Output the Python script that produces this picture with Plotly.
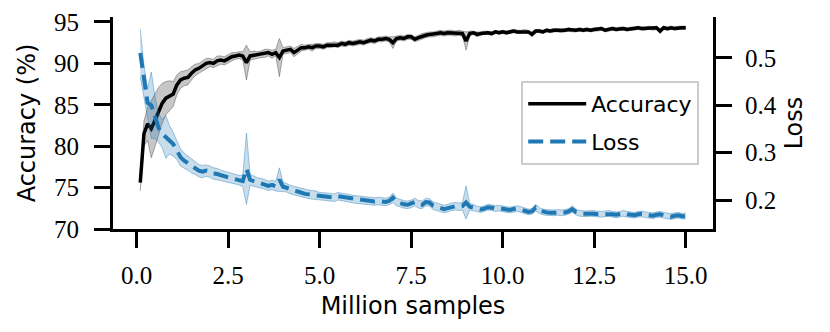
import plotly.graph_objects as go

# ── style ─────────────────────────────────────────────────────────────────────
BLACK = "#000000"
BLUE = "#1f77b4"
ACC_FILL = "rgba(0,0,0,0.22)"
ACC_EDGE = "rgba(0,0,0,0.30)"
LOSS_FILL = "rgba(31,119,180,0.25)"
LOSS_EDGE = "rgba(31,119,180,0.40)"
TICK_FONT = dict(family="Liberation Serif, DejaVu Serif, serif", size=25, color="black")
TITLE_FONT = dict(family="DejaVu Sans, sans-serif", size=24, color="black")

# the page body keeps its default 8px margin, so the figure is 8px smaller
FIG_W, FIG_H = 822, 324

# ── data ──────────────────────────────────────────────────────────────────────
samples_m = [
    0.1, 0.2, 0.3, 0.4, 0.5, 0.6, 0.7, 0.8, 0.9, 1.0,
    1.1, 1.2, 1.3, 1.4, 1.5, 1.6, 1.7, 1.8, 1.9, 2.0,
    2.1, 2.2, 2.3, 2.4, 2.5, 2.6, 2.7, 2.8, 2.9, 3.0,
    3.1, 3.2, 3.3, 3.4, 3.5, 3.6, 3.7, 3.8, 3.9, 4.0,
    4.1, 4.2, 4.3, 4.4, 4.5, 4.6, 4.7, 4.8, 4.9, 5.0,
    5.1, 5.2, 5.3, 5.4, 5.5, 5.6, 5.7, 5.8, 5.9, 6.0,
    6.1, 6.2, 6.3, 6.4, 6.5, 6.6, 6.7, 6.8, 6.9, 7.0,
    7.1, 7.2, 7.3, 7.4, 7.5, 7.6, 7.7, 7.8, 7.9, 8.0,
    8.1, 8.2, 8.3, 8.4, 8.5, 8.6, 8.7, 8.8, 8.9, 9.0,
    9.1, 9.2, 9.3, 9.4, 9.5, 9.6, 9.7, 9.8, 9.9, 10.0,
    10.1, 10.2, 10.3, 10.4, 10.5, 10.6, 10.7, 10.8, 10.9, 11.0,
    11.1, 11.2, 11.3, 11.4, 11.5, 11.6, 11.7, 11.8, 11.9, 12.0,
    12.1, 12.2, 12.3, 12.4, 12.5, 12.6, 12.7, 12.8, 12.9, 13.0,
    13.1, 13.2, 13.3, 13.4, 13.5, 13.6, 13.7, 13.8, 13.9, 14.0,
    14.1, 14.2, 14.3, 14.4, 14.5, 14.6, 14.7, 14.8, 14.9, 15.0,
]

accuracy = [
    75.6, 81.5, 82.7, 82.1, 83.1, 84.3, 85.2, 85.8, 86.1, 86.3,
    87.4, 88.0, 88.2, 88.3, 88.8, 89.2, 89.4, 89.7, 90.0, 90.1,
    90.0, 90.3, 90.4, 90.3, 90.6, 90.8, 90.9, 91.0, 90.9, 90.1,
    90.9, 91.0, 91.0, 91.1, 91.2, 91.3, 91.1, 91.3, 90.7, 91.5,
    91.6, 91.7, 91.3, 91.6, 91.9, 91.9, 92.0, 91.9, 92.1, 92.1,
    92.0, 92.2, 92.2, 92.3, 92.2, 92.4, 92.3, 92.5, 92.4, 92.5,
    92.6, 92.5, 92.7, 92.8, 92.7, 92.9, 92.9, 93.0, 92.9, 92.5,
    93.0, 93.1, 93.0, 93.2, 93.2, 92.9, 93.1, 93.3, 93.4, 93.5,
    93.5, 93.6, 93.7, 93.6, 93.7, 93.7, 93.6, 93.7, 93.6, 92.7,
    93.6, 93.7, 93.5, 93.6, 93.7, 93.7, 93.6, 93.8, 93.7, 93.8,
    93.7, 93.8, 93.9, 93.8, 93.8, 93.9, 93.8, 93.5, 93.9, 93.9,
    93.8, 94.0, 93.9, 94.0, 94.0, 93.9, 94.0, 94.1, 94.0, 94.0,
    94.1, 94.0, 94.1, 94.0, 94.1, 94.1, 94.2, 94.0, 94.1, 94.2,
    94.1, 94.2, 94.2, 94.1, 94.2, 94.2, 94.3, 94.2, 94.2, 94.3,
    94.2, 94.3, 93.9, 94.3, 94.2, 94.3, 94.2, 94.3, 94.3, 94.3,
]

accuracy_sd = [
    1.0, 1.5, 2.0, 3.5, 3.2, 2.8, 2.4, 2.0, 1.8, 1.5,
    1.2, 1.0, 0.9, 0.9, 0.8, 0.7, 0.6, 0.6, 0.6, 0.5,
    0.5, 0.6, 0.5, 0.5, 0.5, 0.5, 0.4, 0.4, 0.5, 2.1,
    0.5, 0.5, 0.4, 0.4, 0.5, 0.4, 0.5, 0.4, 2.3, 0.4,
    0.4, 0.4, 0.5, 0.4, 0.4, 0.3, 0.3, 0.4, 0.3, 0.3,
    0.3, 0.3, 0.3, 0.3, 0.3, 0.3, 0.3, 0.3, 0.3, 0.3,
    0.3, 0.3, 0.3, 0.3, 0.3, 0.3, 0.3, 0.3, 0.3, 0.7,
    0.3, 0.3, 0.3, 0.3, 0.3, 0.3, 0.3, 0.3, 0.3, 0.3,
    0.3, 0.3, 0.3, 0.3, 0.3, 0.3, 0.3, 0.3, 0.3, 1.1,
    0.3, 0.2, 0.3, 0.2, 0.2, 0.2, 0.2, 0.2, 0.2, 0.2,
    0.2, 0.2, 0.2, 0.2, 0.2, 0.2, 0.2, 0.3, 0.2, 0.2,
    0.2, 0.2, 0.2, 0.2, 0.2, 0.2, 0.2, 0.2, 0.2, 0.2,
    0.2, 0.2, 0.2, 0.2, 0.2, 0.2, 0.2, 0.2, 0.2, 0.2,
    0.2, 0.2, 0.2, 0.2, 0.2, 0.2, 0.2, 0.2, 0.2, 0.2,
    0.2, 0.2, 0.3, 0.2, 0.2, 0.2, 0.2, 0.2, 0.2, 0.2,
]

loss = [
    0.510, 0.450, 0.405, 0.400, 0.375, 0.352, 0.340, 0.333, 0.327, 0.318,
    0.305, 0.290, 0.283, 0.278, 0.272, 0.268, 0.262, 0.260, 0.262, 0.260,
    0.256, 0.255, 0.252, 0.250, 0.248, 0.246, 0.244, 0.242, 0.240, 0.266,
    0.243, 0.240, 0.237, 0.236, 0.233, 0.230, 0.232, 0.229, 0.243, 0.228,
    0.226, 0.222, 0.220, 0.218, 0.215, 0.213, 0.212, 0.211, 0.210, 0.208,
    0.208, 0.207, 0.206, 0.205, 0.208, 0.207, 0.206, 0.204, 0.202, 0.201,
    0.200, 0.199, 0.198, 0.198, 0.197, 0.198, 0.197, 0.196, 0.198, 0.205,
    0.196, 0.193, 0.191, 0.190, 0.192, 0.196, 0.191, 0.190, 0.196, 0.195,
    0.188, 0.186, 0.183, 0.181, 0.183, 0.186, 0.187, 0.186, 0.187, 0.195,
    0.186, 0.184, 0.181, 0.180, 0.182, 0.185, 0.184, 0.182, 0.183, 0.181,
    0.180, 0.179, 0.181, 0.182, 0.180, 0.177, 0.175, 0.176, 0.184, 0.178,
    0.175, 0.174, 0.173, 0.173, 0.174, 0.173, 0.174, 0.176, 0.181, 0.175,
    0.172, 0.171, 0.171, 0.172, 0.171, 0.170, 0.170, 0.171, 0.172, 0.170,
    0.169, 0.170, 0.172, 0.170, 0.169, 0.168, 0.170, 0.171, 0.169, 0.168,
    0.167, 0.169, 0.170, 0.168, 0.166, 0.165, 0.167, 0.168, 0.166, 0.166,
]

loss_sd = [
    0.050, 0.035, 0.030, 0.070, 0.045, 0.030, 0.030, 0.045, 0.030, 0.025,
    0.020, 0.018, 0.016, 0.015, 0.015, 0.014, 0.013, 0.013, 0.012, 0.012,
    0.012, 0.012, 0.011, 0.011, 0.011, 0.010, 0.010, 0.010, 0.012, 0.075,
    0.012, 0.011, 0.010, 0.010, 0.010, 0.010, 0.010, 0.010, 0.025, 0.010,
    0.009, 0.009, 0.009, 0.009, 0.009, 0.009, 0.009, 0.009, 0.009, 0.008,
    0.008, 0.008, 0.008, 0.008, 0.008, 0.008, 0.008, 0.008, 0.008, 0.008,
    0.008, 0.008, 0.008, 0.008, 0.008, 0.008, 0.008, 0.008, 0.008, 0.010,
    0.008, 0.008, 0.008, 0.008, 0.008, 0.008, 0.008, 0.008, 0.008, 0.008,
    0.008, 0.008, 0.008, 0.008, 0.008, 0.008, 0.008, 0.008, 0.008, 0.035,
    0.007, 0.007, 0.006, 0.006, 0.006, 0.006, 0.006, 0.006, 0.006, 0.006,
    0.006, 0.006, 0.006, 0.006, 0.006, 0.006, 0.006, 0.006, 0.007, 0.006,
    0.006, 0.006, 0.006, 0.006, 0.006, 0.006, 0.006, 0.006, 0.007, 0.006,
    0.006, 0.006, 0.006, 0.006, 0.006, 0.006, 0.006, 0.006, 0.006, 0.006,
    0.006, 0.006, 0.006, 0.006, 0.006, 0.006, 0.006, 0.006, 0.006, 0.006,
    0.006, 0.006, 0.006, 0.006, 0.006, 0.006, 0.006, 0.006, 0.006, 0.006,
]

x_ticks = [0.0, 2.5, 5.0, 7.5, 10.0, 12.5, 15.0]
acc_ticks = [70, 75, 80, 85, 90, 95]
loss_ticks = [0.2, 0.3, 0.4, 0.5]


def band(fig, x, mean, sd, fill, edge, yaxis, group):
    """Shaded mean ± sd band, edges drawn like matplotlib's fill_between."""
    lo = [m - s for m, s in zip(mean, sd)]
    hi = [m + s for m, s in zip(mean, sd)]
    fig.add_trace(go.Scatter(x=x, y=lo, mode="lines", line=dict(color=edge, width=1),
                             yaxis=yaxis, legendgroup=group, showlegend=False,
                             hoverinfo="skip"))
    fig.add_trace(go.Scatter(x=x, y=hi, mode="lines", line=dict(color=edge, width=1),
                             fill="tonexty", fillcolor=fill, yaxis=yaxis,
                             legendgroup=group, showlegend=False, hoverinfo="skip"))


fig = go.Figure()

band(fig, samples_m, accuracy, accuracy_sd, ACC_FILL, ACC_EDGE, "y", "acc")
fig.add_trace(go.Scatter(
    x=samples_m, y=accuracy, name="Accuracy", mode="lines", legendgroup="acc",
    line=dict(color=BLACK, width=3.5), yaxis="y",
))

band(fig, samples_m, loss, loss_sd, LOSS_FILL, LOSS_EDGE, "y2", "loss")
fig.add_trace(go.Scatter(
    x=samples_m, y=loss, name="Loss", mode="lines", legendgroup="loss",
    line=dict(color=BLUE, width=4, dash="15px,7px"), yaxis="y2",
))

axis_common = dict(
    showline=True, linecolor="black", linewidth=3,
    ticks="outside", ticklen=16, tickwidth=3, tickcolor="black",
    showgrid=False, zeroline=False, tickfont=TICK_FONT, automargin=False,
    ticklabeloverflow="allow",
)

fig.update_layout(
    width=FIG_W, height=FIG_H,
    margin=dict(l=105, r=117, t=9, b=103),
    paper_bgcolor="white", plot_bgcolor="white",
    font=TITLE_FONT,
    xaxis=dict(
        **axis_common, range=[-0.645, 15.745],
        tickvals=x_ticks, tickformat=".1f", ticklabelstandoff=6,
        title=dict(text="Million samples", font=TITLE_FONT, standoff=10),
    ),
    yaxis=dict(
        **axis_common, range=[70, 95.6],
        tickvals=acc_ticks, ticklabelstandoff=10,
        title=dict(text="Accuracy (%)", font=TITLE_FONT, standoff=12),
    ),
    yaxis2=dict(
        **axis_common, range=[0.139, 0.586], overlaying="y", side="right",
        tickvals=loss_ticks, tickformat=".1f", ticklabelstandoff=8,
        title=dict(text="Loss", font=TITLE_FONT, standoff=10),
    ),
    legend=dict(
        x=0.977, xanchor="right", y=0.5, yanchor="middle",
        traceorder="grouped", tracegroupgap=6, itemwidth=58,
        bgcolor="rgba(255,255,255,0.85)", bordercolor="#cccccc", borderwidth=2,
        font=dict(family="DejaVu Sans, sans-serif", size=22, color="black"),
    ),
    showlegend=True,
)

fig.write_html("out.html")
